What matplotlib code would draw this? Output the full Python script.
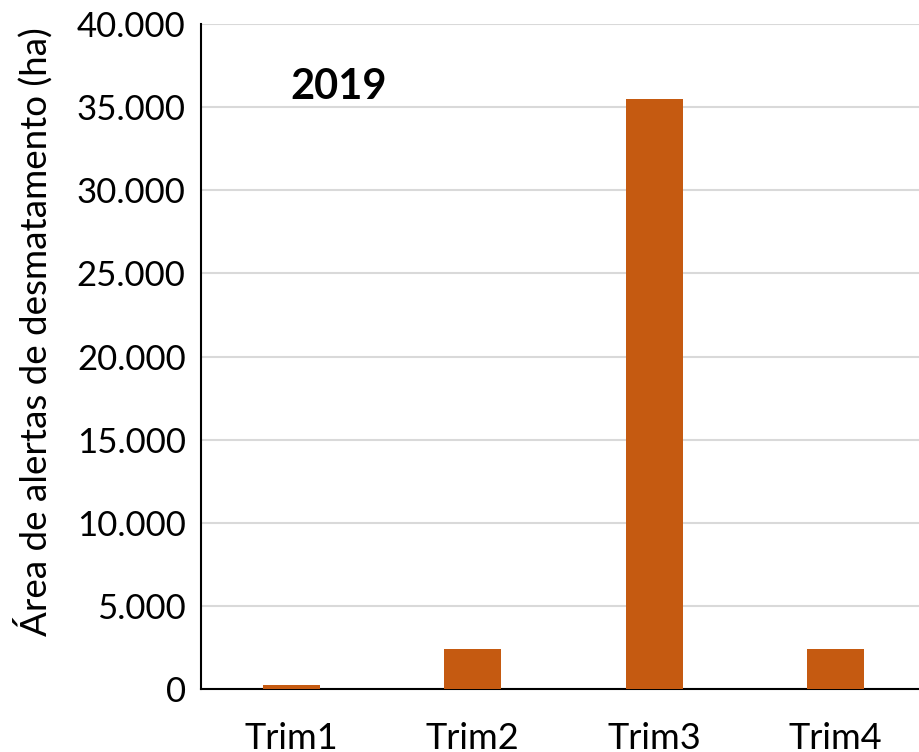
import matplotlib.pyplot as plt
from matplotlib.ticker import FuncFormatter
import numpy as np

plt.rcParams['font.family'] = ['Lato', 'DejaVu Sans']

categorias = ['Trim1', 'Trim2', 'Trim3', 'Trim4']
area_ha = [240, 2390, 35470, 2400]
y_ticks = np.arange(0, 40001, 5000)

fig = plt.figure(figsize=(9.19, 7.52), dpi=100)
ax = fig.add_axes([201/919, 1 - 689/752, 725/919, 665/752])

x = np.arange(len(categorias))
ax.bar(x, area_ha, width=0.315, color='#C55A11', zorder=3)

ax.set_xlim(-0.5, 3.5)
ax.set_ylim(0, 40000)
ax.set_yticks(y_ticks)
ax.yaxis.set_major_formatter(FuncFormatter(lambda v, p: f'{int(v):,}'.replace(',', '.')))
ax.set_xticks(x)
ax.set_xticklabels(categorias)
ax.tick_params(axis='both', length=0, colors='black')
ax.tick_params(axis='y', labelsize=25, pad=11)
ax.tick_params(axis='x', labelsize=26, pad=24)

ax.grid(axis='y', color='#d9d9d9', linewidth=1.5, zorder=0)
ax.spines['top'].set_visible(False)
ax.spines['right'].set_visible(False)
ax.spines['left'].set_linewidth(1.5)
ax.spines['bottom'].set_linewidth(1.5)

ax.set_ylabel('Área de alertas de desmatamento (ha)', fontsize=26.5)
ax.yaxis.set_label_coords(-0.205, 0.537)
ax.text(0.19, 0.905, '2019', transform=ax.transAxes, fontsize=30,
        fontweight='bold', ha='center', va='center')

fig.savefig('out.png', dpi=100)
